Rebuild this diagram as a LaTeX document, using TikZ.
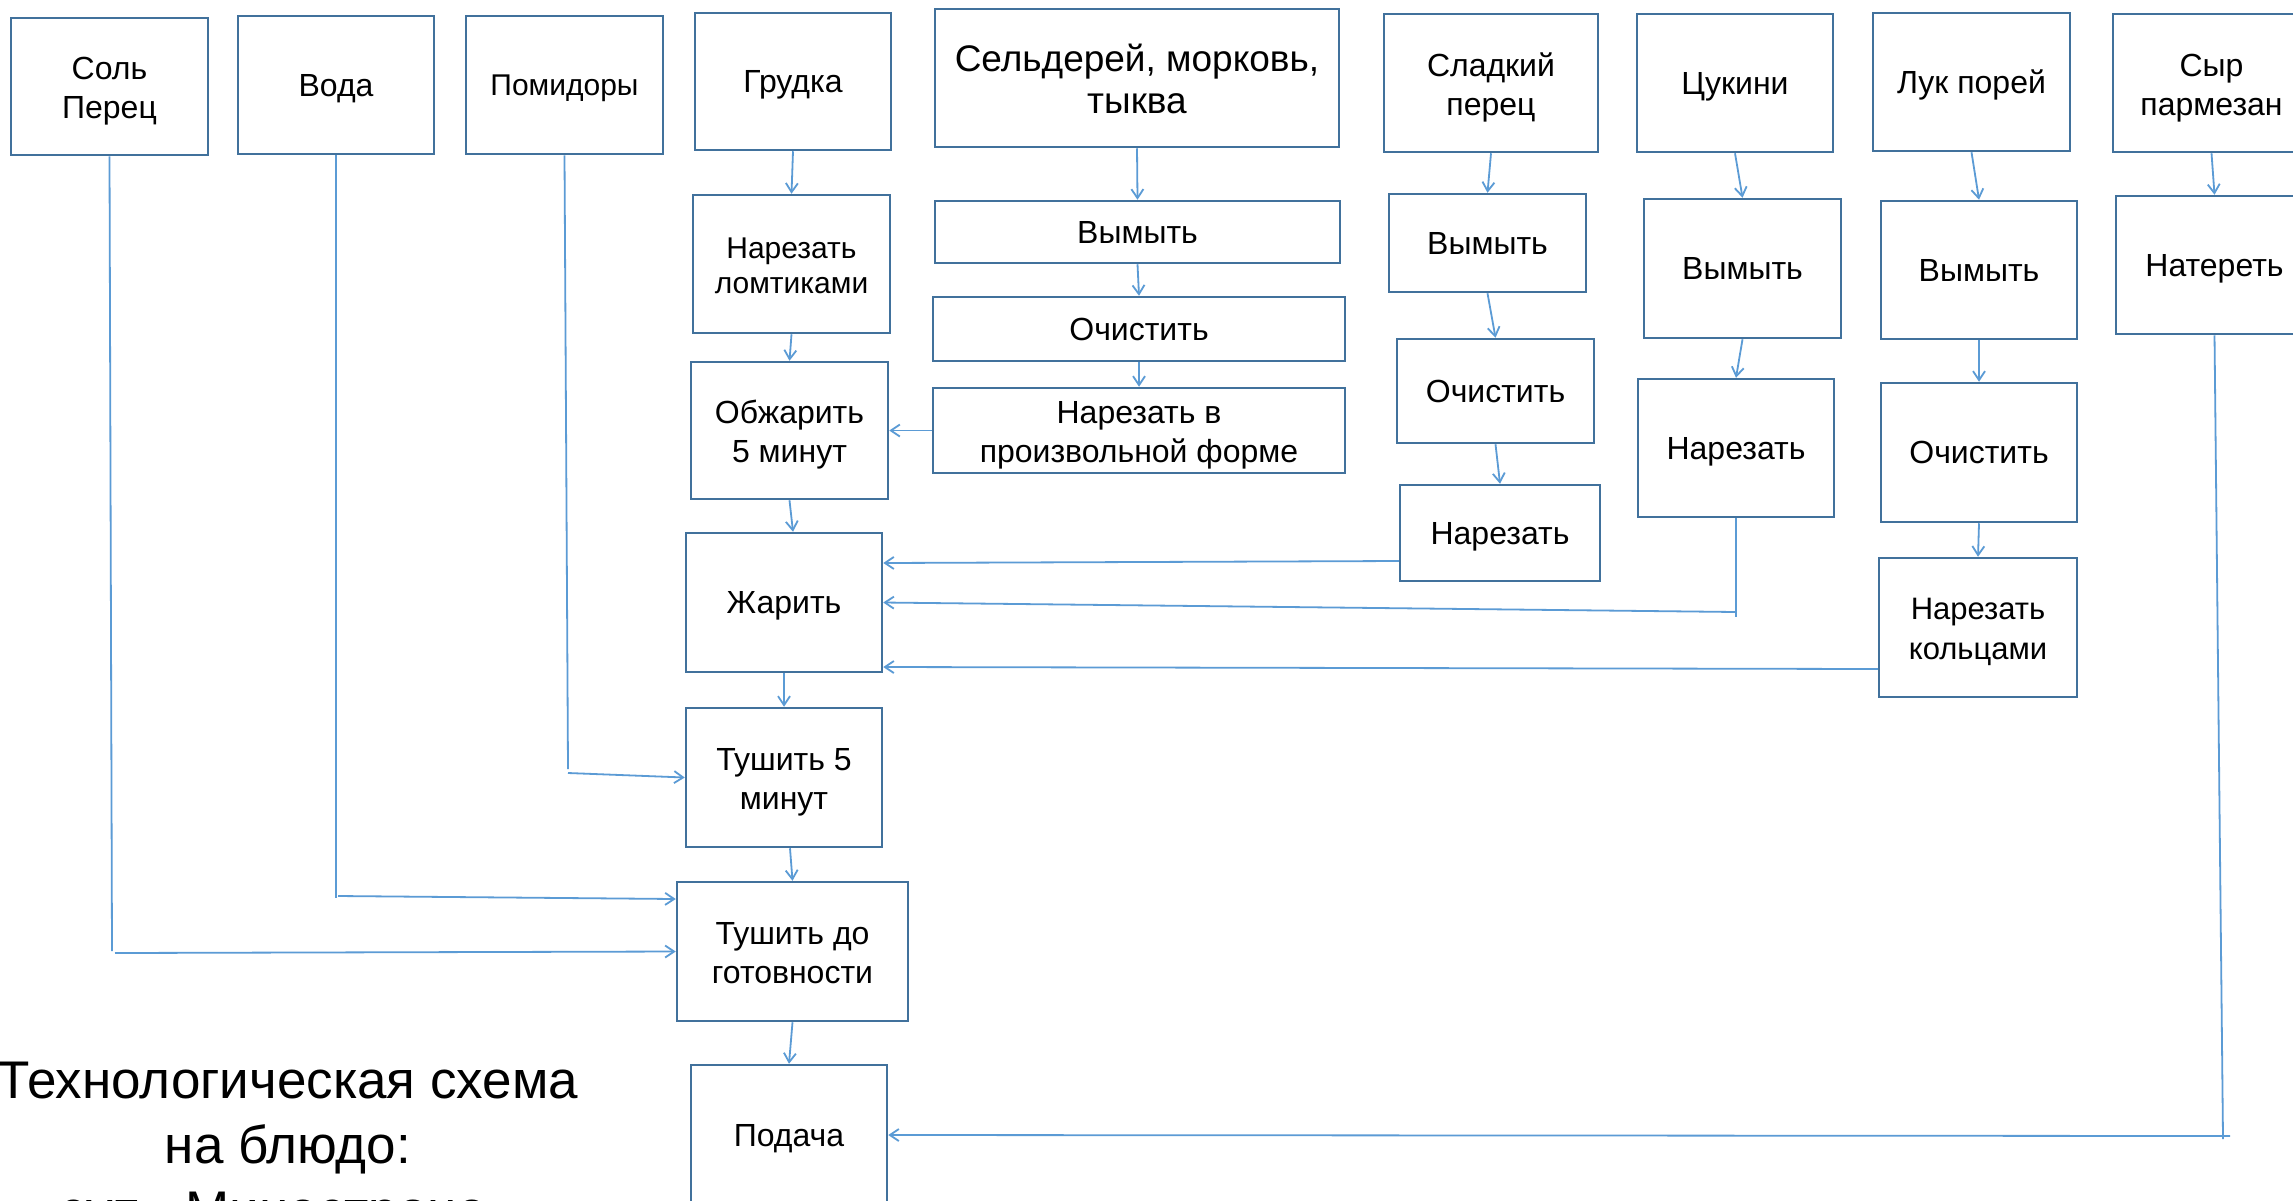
\documentclass[tikz,border=0pt]{standalone}
\usepackage{fontspec}
\setmainfont{Liberation Sans}
\usetikzlibrary{arrows.meta}
\definecolor{boxc}{HTML}{41719C}
\definecolor{linec}{HTML}{5B9BD5}
\begin{document}
\begin{tikzpicture}[x=1pt,y=-1pt,
  box/.style={draw=boxc, line width=2.5pt, fill=white, inner sep=0pt, align=center,
    font=\fontsize{32}{39}\selectfont,
    execute at begin node={\rule{0pt}{0.905em}},
    execute at end node={\rule[-0.212em]{0pt}{0.212em}}},
  ml/.style={execute at begin node={\rule{0pt}{\dimexpr\baselineskip+0.905em+3pt\relax}}},
  bigtext/.style={font=\fontsize{37}{42}\selectfont},
  conn/.style={draw=linec, line width=1.8pt},
  arr/.style={conn, -{Straight Barb[length=9pt,width=12pt]}},
  sz/.style 2 args={minimum width=#1pt, minimum height=#2pt}]
\clip (0,0) rectangle (2293,1200);
\fill[white] (0,0) rectangle (2293,1200);
% top row
\node[box, ml, sz={197}{137}] (sol) at (109.5,86.5) {Соль\\Перец};
\node[box, sz={196}{138}] (voda) at (336,85) {Вода};
\node[box, sz={197}{138}, font=\fontsize{30}{36}\selectfont] (pomid) at (564.5,85) {Помидоры};
\node[box, sz={196}{137}] (grudka) at (793,81.5) {Грудка};
\node[box, ml, bigtext, sz={404}{138}] (seld) at (1137,78) {Сельдерей, морковь,\\тыква};
\node[box, ml, sz={214}{138}] (sladk) at (1491,83) {Сладкий\\перец};
\node[box, sz={196}{138}] (cukini) at (1735,83) {Цукини};
\node[box, sz={197}{138}] (luk) at (1971.5,82) {Лук порей};
\node[box, ml, sz={197}{138}] (syr) at (2211.5,83) {Сыр\\пармезан};
% Grudka column
\node[box, ml, sz={197}{138}, font=\fontsize{30}{35}\selectfont] (narlom) at (791.5,264) {Нарезать\\ломтиками};
\node[box, ml, sz={197}{137}] (obzh) at (789.5,430.5) {Обжарить\\5 минут};
\node[box, sz={196}{139}] (zhar) at (784,602.5) {Жарить};
\node[box, ml, sz={196}{139}] (tush5) at (784,777.5) {Тушить 5\\минут};
\node[box, ml, sz={231}{139}] (tushdo) at (792.5,951.5) {Тушить до\\готовности};
\node[box, sz={196}{140}] (podacha) at (789,1135) {Подача};
% Seld column
\node[box, sz={405}{62}] (vym1) at (1137.5,232) {Вымыть};
\node[box, sz={412}{64}] (och1) at (1139,329) {Очистить};
\node[box, ml, sz={412}{85}] (narproiz) at (1139,430.5) {Нарезать в\\произвольной форме};
% Sladkiy column
\node[box, sz={197}{98}] (vym2) at (1487.5,243) {Вымыть};
\node[box, sz={197}{104}] (och2) at (1495.5,391) {Очистить};
\node[box, sz={200}{96}] (nar2) at (1500,533) {Нарезать};
% Cukini column
\node[box, sz={197}{139}] (vym3) at (1742.5,268.5) {Вымыть};
\node[box, sz={196}{138}] (nar3) at (1736,448) {Нарезать};
% Luk column
\node[box, sz={196}{138}] (vym4) at (1979,270) {Вымыть};
\node[box, sz={196}{139}] (och4) at (1979,452.5) {Очистить};
\node[box, ml, sz={198}{139}, font=\fontsize{31}{40}\selectfont] (narkol) at (1978,627.5) {Нарезать\\кольцами};
% Syr column
\node[box, sz={197}{138}] (nater) at (2214.5,265) {Натереть};
% title (base anchor = baseline of the last line)
\node[align=center, inner sep=0pt, anchor=base, font=\fontsize{53}{65}\selectfont] (title) at (288,1228)
  {Технологическая схема\\на блюдо:\\суп «Минестроне»};
% coordinates for free ends
\coordinate (c3a) at (1736,617);
\coordinate (c3b) at (1736,612);
\coordinate (cna) at (2223,1139);
\coordinate (cnb) at (2230,1136);
\coordinate (cpa) at (568,769);
\coordinate (cpb) at (568,773);
\coordinate (cva) at (336,898);
\coordinate (cvb) at (338,896);
\coordinate (csa) at (112,951);
\coordinate (csb) at (115,953);
% connectors
\draw[arr] (grudka.south) -- (narlom.north);
\draw[arr] (narlom.south) -- (obzh.north);
\draw[arr] (obzh.south) -- ([xshift=9pt]zhar.north);
\draw[arr] (zhar.south) -- (tush5.north);
\draw[arr] ([xshift=6pt]tush5.south) -- (tushdo.north);
\draw[arr] (tushdo.south) -- (podacha.north);
\draw[arr] (seld.south) -- (vym1.north);
\draw[arr] (vym1.south) -- (och1.north);
\draw[arr] (och1.south) -- (narproiz.north);
\draw[arr] (narproiz.west) -- (obzh.east);
\draw[arr] (sladk.south) -- (vym2.north);
\draw[arr] (vym2.south) -- (och2.north);
\draw[arr] (och2.south) -- (nar2.north);
\draw[arr] ([yshift=-28pt]nar2.west) -- ([yshift=39.5pt]zhar.east);
\draw[arr] (cukini.south) -- (vym3.north);
\draw[arr] (vym3.south) -- (nar3.north);
\draw[conn] (nar3.south) -- (c3a);
\draw[arr] (c3b) -- (zhar.east);
\draw[arr] (luk.south) -- (vym4.north);
\draw[arr] (vym4.south) -- (och4.north);
\draw[arr] (och4.south) -- (narkol.north);
\draw[arr] ([yshift=-41.5pt]narkol.west) -- ([yshift=-64.5pt]zhar.east);
\draw[arr] (syr.south) -- (nater.north);
\draw[conn] (nater.south) -- (cna);
\draw[arr] (cnb) -- (podacha.east);
\draw[conn] (pomid.south) -- (cpa);
\draw[arr] (cpb) -- (tush5.west);
\draw[conn] (voda.south) -- (cva);
\draw[arr] (cvb) -- ([yshift=52.5pt]tushdo.west);
\draw[conn] (sol.south) -- (csa);
\draw[arr] (csb) -- (tushdo.west);
\end{tikzpicture}
\end{document}
